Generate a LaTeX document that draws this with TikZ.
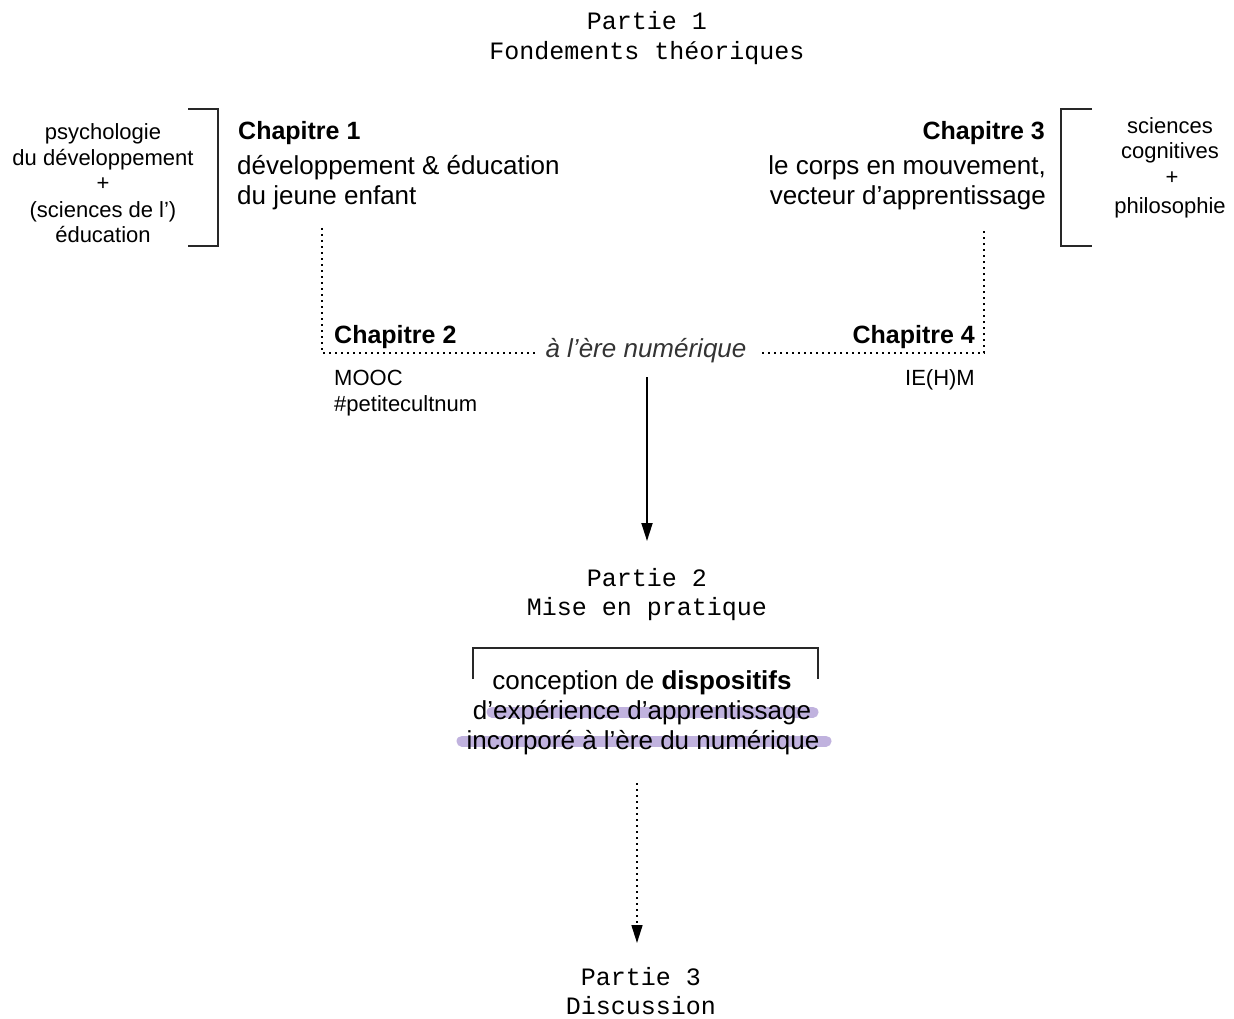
\documentclass[tikz,border=0pt]{standalone}
\usepackage{fontspec}
\setmainfont{Liberation Sans}
\newfontfamily\monofont{Liberation Mono}
\usetikzlibrary{arrows.meta}
\definecolor{hl}{RGB}{192,178,222}
\definecolor{brk}{RGB}{40,40,40}
\begin{document}
\begin{tikzpicture}[x=1pt,y=-1pt,
  every node/.style={inner sep=0pt, anchor=base},
  mono/.style={font=\monofont\fontsize{25}{30}\selectfont},
  side/.style={font=\fontsize{22}{26}\selectfont},
  chap/.style={font=\bfseries\fontsize{25}{30}\selectfont},
  body/.style={font=\fontsize{26}{30}\selectfont},
  small/.style={font=\fontsize{22}{26}\selectfont},
  ital/.style={font=\itshape\fontsize{26}{30}\selectfont, text=black!80},
  bracket/.style={draw=brk, line width=1.5pt},
  dotline/.style={line width=1.6pt, dash pattern=on 1.6pt off 4.4pt},
  highlight/.style={draw=hl, line width=11pt, line cap=round}
]
\useasboundingbox (0,0) rectangle (1234,1019);

% Partie 1
\node[mono] (p1a) at (647,30) {Partie 1};
\node[mono] (p1b) at (647,60) {Fondements théoriques};

% left side disciplines
\node[side] (l1) at (103,140) {psychologie};
\node[side] (l2) at (103,166) {du développement};
\node[side] (l3) at (103,191) {+};
\node[side] (l4) at (103,218) {(sciences de l')};
\node[side] (l5) at (103,243) {éducation};
\draw[bracket] (188,109) -- (218,109) -- (218,246) -- (188,246);

% Chapitre 1
\node[chap, anchor=base west] (c1) at (238,140) {Chapitre 1};
\node[body, anchor=base west] (c1a) at (237,175) {développement \& éducation};
\node[body, anchor=base west] (c1b) at (237,205) {du jeune enfant};

% Chapitre 3
\node[chap, anchor=base east] (c3) at (1045,140) {Chapitre 3};
\node[body, anchor=base east] (c3a) at (1046,175) {le corps en mouvement,};
\node[body, anchor=base east] (c3b) at (1046,205) {vecteur d'apprentissage};

% right side disciplines
\node[side] (r1) at (1170,134) {sciences};
\node[side] (r2) at (1170,159) {cognitives};
\node[side] (r3) at (1172,185) {+};
\node[side] (r4) at (1170,214) {philosophie};
\draw[bracket] (1092,109) -- (1061,109) -- (1061,246) -- (1092,246);

% Chapitres 2 & 4
\node[chap, anchor=base west] (c2) at (334,343) {Chapitre 2};
\node[chap, anchor=base east] (c4) at (975,343) {Chapitre 4};
\node[ital] (ere) at (646,357) {à l'ère numérique};
\node[small, anchor=base west] (m1) at (334,385) {MOOC};
\node[small, anchor=base west] (m2) at (334,411) {\#petitecultnum};
\node[small, anchor=base east] (ie) at (975,385) {IE(H)M};

% dotted frame
\coordinate (d1top) at (322,228);
\coordinate (d1bot) at (322,353);
\coordinate (d3top) at (984,228);
\coordinate (d3bot) at (984,353);
\coordinate (eL) at (537,353);
\coordinate (eR) at (762,353);
\draw[dotline] (d1top) -- (d1bot) -- (eL);
\draw[dotline] (eR) -- (d3bot) -- (d3top);

% solid arrow to Partie 2
\coordinate (a1s) at (647,377);
\coordinate (a1e) at (647,541);
\draw[line width=1.8pt, -{Triangle[width=11pt,length=18pt]}] (a1s) -- (a1e);

% Partie 2
\node[mono] (p2a) at (647,586) {Partie 2};
\node[mono] (p2b) at (647,615) {Mise en pratique};

\draw[bracket] (473,679) -- (473,648) -- (818,648) -- (818,679);

% highlights
\draw[highlight] (492,712) -- (813,712);
\draw[highlight] (462,741) -- (826,741);

\node[body] (t1) at (642,689) {conception de \textbf{dispositifs}};
\node[body] (t2) at (642,719) {d'expérience d'apprentissage};
\node[body] (t3) at (643,749) {incorporé à l'ère du numérique};

% dotted arrow to Partie 3
\coordinate (a2s) at (637,783);
\coordinate (a2e) at (637,943);
\draw[dotline, -{Triangle[width=11pt,length=18pt]}] (a2s) -- (a2e);

% Partie 3
\node[mono] (p3a) at (641,985) {Partie 3};
\node[mono] (p3b) at (641,1014) {Discussion};
\end{tikzpicture}
\end{document}
